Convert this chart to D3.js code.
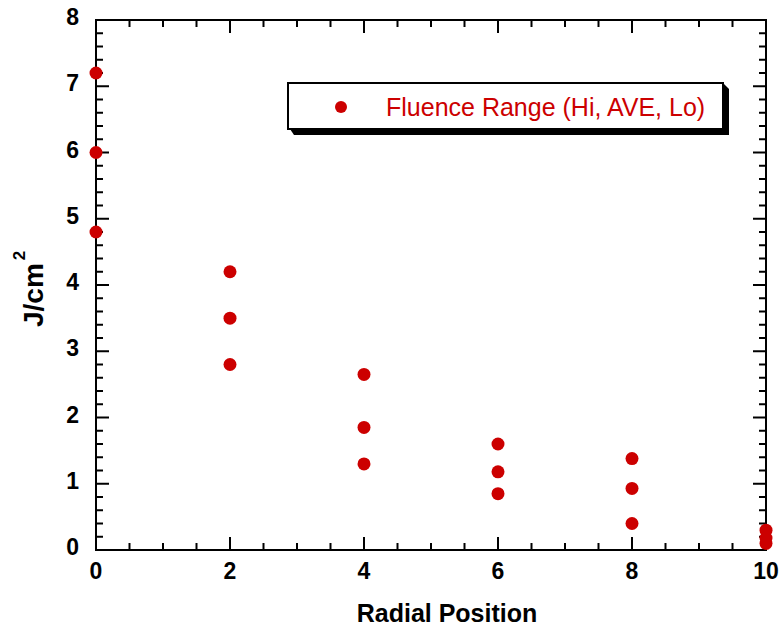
<!DOCTYPE html>
<html>
<head>
<meta charset="utf-8">
<script src="https://cdn.jsdelivr.net/npm/d3@7/dist/d3.min.js"></script>
<style>
  html, body { margin: 0; padding: 0; background: #fff; }
  svg { display: block; }
</style>
</head>
<body>
<svg id="chart" width="779" height="626"></svg>
<script>
// Radial fluence measurements: high, average and low at each position
const positions = [0, 2, 4, 6, 8, 10];
const fluenceHi  = [7.2, 4.2, 2.65, 1.6, 1.38, 0.3];
const fluenceAve = [6.0, 3.5, 1.85, 1.18, 0.93, 0.18];
const fluenceLo  = [4.8, 2.8, 1.3, 0.85, 0.4, 0.1];
const xTicks = [0, 2, 4, 6, 8, 10];
const yTicks = [0, 1, 2, 3, 4, 5, 6, 7, 8];
const legendLabel = "Fluence Range (Hi, AVE, Lo)";

const red = "#cc0000";
const svg = d3.select("#chart");
const m = { left: 96, right: 766, top: 20, bottom: 550 };

const x = d3.scaleLinear().domain([0, 10]).range([m.left, m.right]);
const y = d3.scaleLinear().domain([0, 8]).range([m.bottom, m.top]);

const font = "Liberation Sans, Arial, Helvetica, sans-serif";

// Frame
svg.append("rect")
  .attr("x", m.left).attr("y", m.top)
  .attr("width", m.right - m.left).attr("height", m.bottom - m.top)
  .attr("fill", "none").attr("stroke", "#000").attr("stroke-width", 2);

// Inward ticks on all four sides
const xMinor = d3.range(0, 10.001, 0.5);
const yMinor = d3.range(0, 8.001, 0.2);
const tickG = svg.append("g").attr("stroke", "#000").attr("stroke-width", 2);
xMinor.forEach(v => {
  const major = Math.abs(v - Math.round(v / 2) * 2) < 1e-6;
  const len = major ? 13 : 7;
  tickG.append("line").attr("x1", x(v)).attr("x2", x(v)).attr("y1", m.bottom).attr("y2", m.bottom - len);
  tickG.append("line").attr("x1", x(v)).attr("x2", x(v)).attr("y1", m.top).attr("y2", m.top + len);
});
yMinor.forEach(v => {
  const major = Math.abs(v - Math.round(v)) < 1e-6;
  const len = major ? 13 : 7;
  tickG.append("line").attr("y1", y(v)).attr("y2", y(v)).attr("x1", m.left).attr("x2", m.left + len);
  tickG.append("line").attr("y1", y(v)).attr("y2", y(v)).attr("x1", m.right).attr("x2", m.right - len);
});

// Tick labels
svg.append("g").selectAll("text").data(xTicks).join("text")
  .attr("x", d => x(d)).attr("y", 579)
  .attr("text-anchor", "middle")
  .attr("font-family", font).attr("font-weight", "bold").attr("font-size", 23)
  .text(d => d);
svg.append("g").selectAll("text").data(yTicks).join("text")
  .attr("x", 79).attr("y", d => y(d) + 5)
  .attr("text-anchor", "end")
  .attr("font-family", font).attr("font-weight", "bold").attr("font-size", 23)
  .text(d => d);

// Axis titles
svg.append("text")
  .attr("x", 447).attr("y", 622)
  .attr("text-anchor", "middle")
  .attr("font-family", font).attr("font-weight", "bold").attr("font-size", 25)
  .text("Radial Position");

const yt = svg.append("text")
  .attr("transform", `translate(43, 327) rotate(-90)`)
  .attr("text-anchor", "start")
  .attr("font-family", font).attr("font-weight", "bold").attr("font-size", 28);
yt.append("tspan").text("J/cm");
yt.append("tspan").attr("dx", 3).attr("dy", -18).attr("font-size", 17).text("2");

// Data points
const pts = [];
positions.forEach((p, i) => {
  pts.push([p, fluenceHi[i]], [p, fluenceAve[i]], [p, fluenceLo[i]]);
});
svg.append("g").selectAll("circle").data(pts).join("circle")
  .attr("cx", d => x(d[0])).attr("cy", d => y(d[1]))
  .attr("r", 6.5).attr("fill", red);

// Legend with bevelled drop shadow
const L = { x0: 288, y0: 83, x1: 723, y1: 129, off: 6 };
const lg = svg.append("g");
lg.append("path")
  .attr("d", `M${L.x0 + 2},${L.y1} L${L.x0 + L.off},${L.y1 + L.off} L${L.x1 + L.off},${L.y1 + L.off}
              L${L.x1 + L.off},${L.y0 + L.off} L${L.x1},${L.y0} Z`)
  .attr("fill", "#000");
lg.append("rect").attr("x", L.x0).attr("y", L.y0).attr("width", L.x1 - L.x0).attr("height", L.y1 - L.y0)
  .attr("fill", "#fff").attr("stroke", "#000").attr("stroke-width", 2);
lg.append("circle").attr("cx", 341).attr("cy", 107).attr("r", 6).attr("fill", red);
lg.append("text").attr("x", 386).attr("y", 116)
  .attr("font-family", font).attr("font-size", 25).attr("fill", red)
  .text(legendLabel);
</script>
</body>
</html>
